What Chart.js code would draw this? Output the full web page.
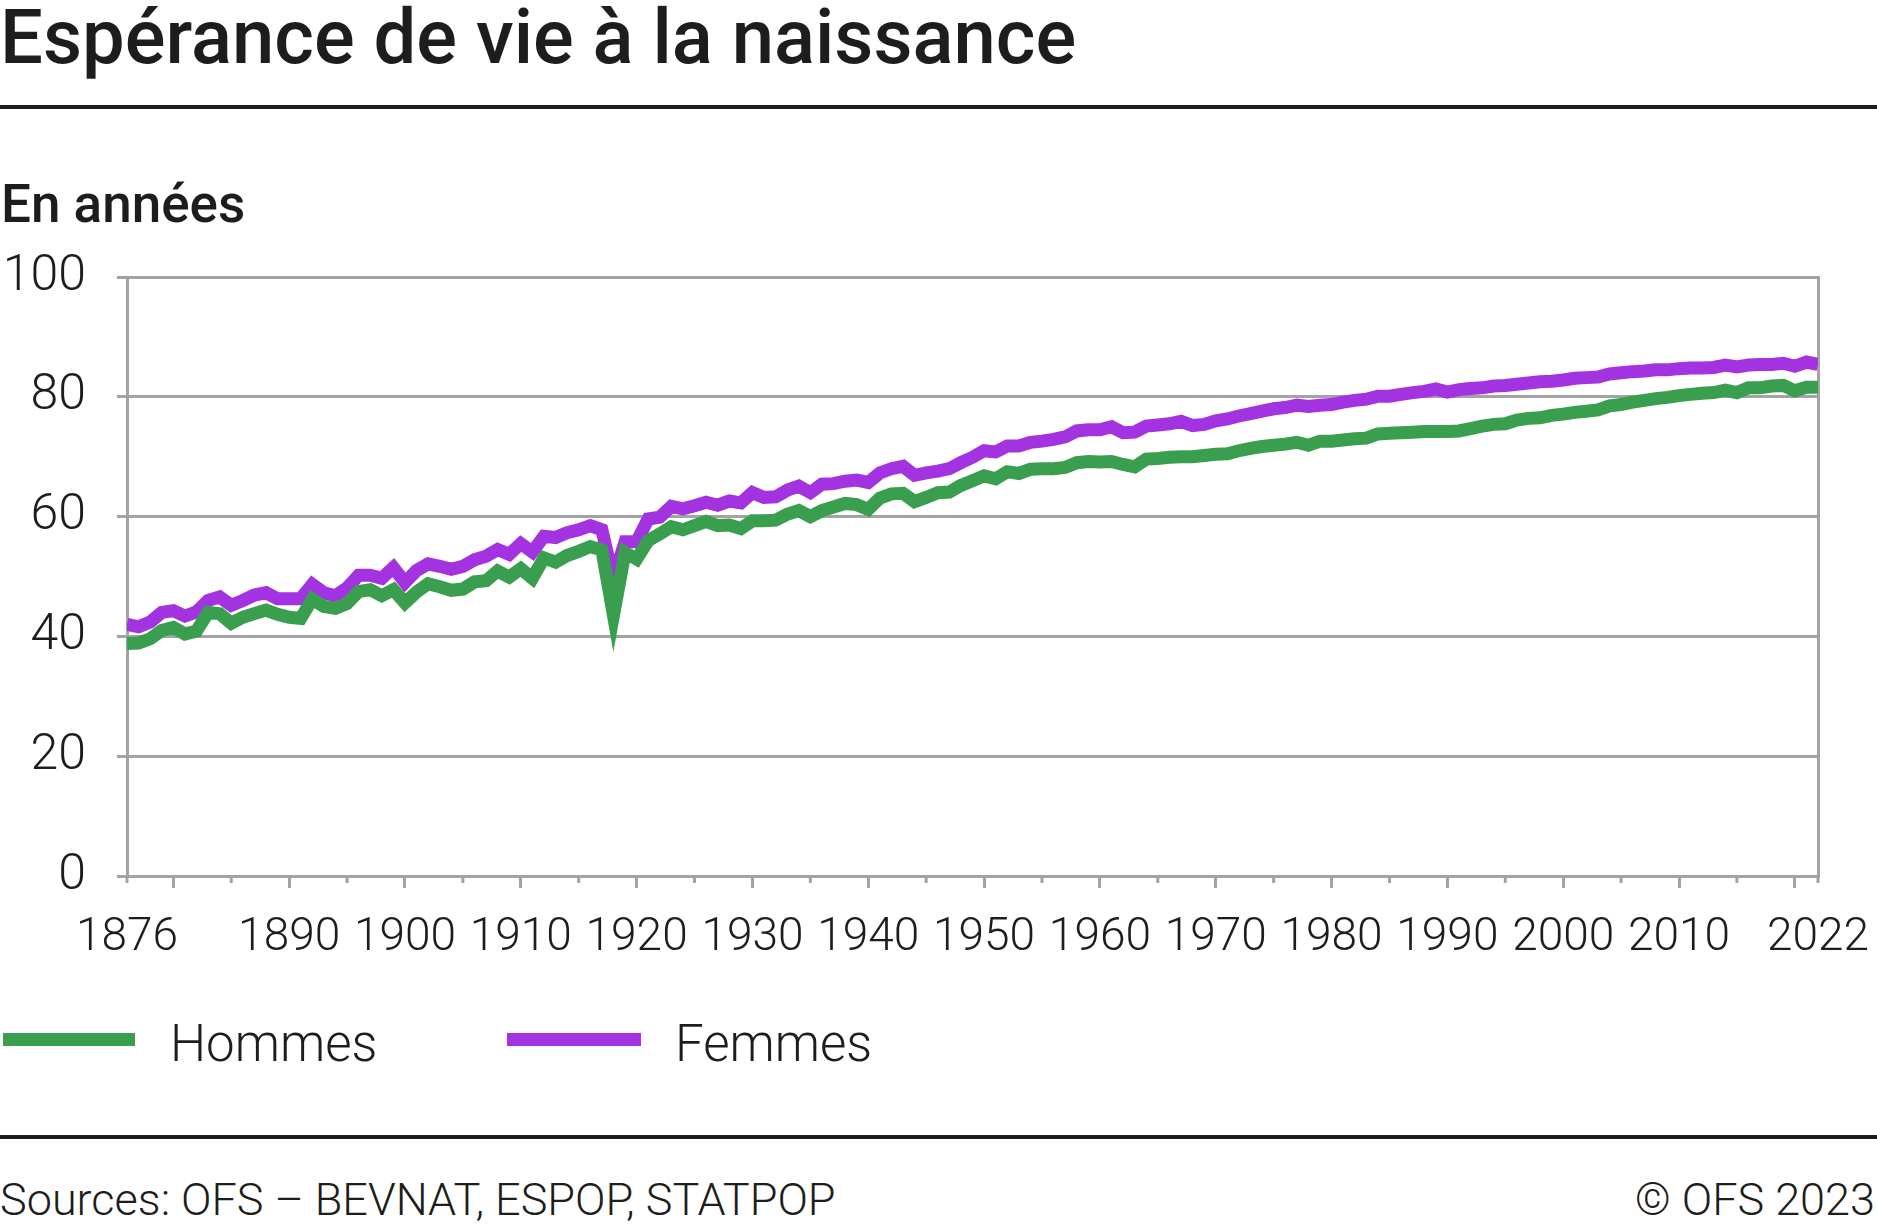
<!DOCTYPE html>
<html lang="fr">
<head>
<meta charset="utf-8">
<script src="https://cdn.jsdelivr.net/npm/chart.js@4.4.1/dist/chart.umd.min.js"></script>
<style>
  html, body { margin:0; padding:0; background:#fff; }
  body { width:1877px; height:1227px; position:relative; overflow:hidden; font-family:Roboto, "Noto Sans", sans-serif; color:#1d1d1b; }
  .abs { position:absolute; line-height:1; white-space:nowrap; }
  #title { left:0; top:-1px; font-size:76px; font-weight:500; }
  .rule { position:absolute; left:0; width:1877px; height:4px; background:#1d1d1b; }
  #unit { left:1px; top:178px; font-size:53px; font-weight:500; }
  #wrap { position:absolute; left:0; top:240px; width:1877px; height:740px; }
  .lg-line { position:absolute; height:13px; top:1033px; }
  .lg-text { font-size:51px; font-weight:300; top:1018px; }
  #src { left:0; top:1177px; font-size:45px; font-weight:300; }
  #copy { right:2px; top:1177px; font-size:45px; font-weight:300; }
</style>
</head>
<body>
<div id="title" class="abs">Espérance de vie à la naissance</div>
<div class="rule" style="top:105px"></div>
<div id="unit" class="abs">En années</div>
<div id="wrap"><canvas id="c"></canvas></div>
<div class="lg-line" style="left:3px;width:132px;background:#3a9e4f"></div>
<div class="abs lg-text" style="left:170px">Hommes</div>
<div class="lg-line" style="left:507px;width:134px;background:#a333e0"></div>
<div class="abs lg-text" style="left:675px">Femmes</div>
<div class="rule" style="top:1135px"></div>
<div id="src" class="abs">Sources: OFS – BEVNAT, ESPOP, STATPOP</div>
<div id="copy" class="abs">© OFS 2023</div>
<script>
const years = [1876,1877,1878,1879,1880,1881,1882,1883,1884,1885,1886,1887,1888,1889,1890,1891,1892,1893,1894,1895,1896,1897,1898,1899,1900,1901,1902,1903,1904,1905,1906,1907,1908,1909,1910,1911,1912,1913,1914,1915,1916,1917,1918,1919,1920,1921,1922,1923,1924,1925,1926,1927,1928,1929,1930,1931,1932,1933,1934,1935,1936,1937,1938,1939,1940,1941,1942,1943,1944,1945,1946,1947,1948,1949,1950,1951,1952,1953,1954,1955,1956,1957,1958,1959,1960,1961,1962,1963,1964,1965,1966,1967,1968,1969,1970,1971,1972,1973,1974,1975,1976,1977,1978,1979,1980,1981,1982,1983,1984,1985,1986,1987,1988,1989,1990,1991,1992,1993,1994,1995,1996,1997,1998,1999,2000,2001,2002,2003,2004,2005,2006,2007,2008,2009,2010,2011,2012,2013,2014,2015,2016,2017,2018,2019,2020,2021,2022];

const hommes = [38.8,38.9,39.6,41.0,41.5,40.4,40.9,44.0,43.8,42.2,43.2,43.8,44.4,43.7,43.2,43.0,46.2,45.0,44.7,45.5,47.5,47.8,46.8,47.8,45.6,47.4,48.8,48.3,47.7,47.9,49.1,49.3,50.9,49.9,51.3,49.7,53.1,52.4,53.5,54.2,55.0,54.4,43.5,54.0,52.9,56.0,57.1,58.3,57.8,58.5,59.2,58.5,58.6,58.0,59.3,59.3,59.4,60.4,61.0,60.0,61.0,61.6,62.2,62.0,61.2,63.1,63.8,63.9,62.5,63.2,64.0,64.1,65.2,66.0,66.8,66.3,67.5,67.2,67.9,68.0,68.0,68.2,69.0,69.2,69.1,69.2,68.7,68.3,69.6,69.7,69.9,70.0,70.0,70.2,70.4,70.5,71.0,71.4,71.7,71.9,72.1,72.4,71.9,72.6,72.6,72.8,73.0,73.1,73.8,73.9,74.0,74.1,74.2,74.2,74.2,74.3,74.7,75.1,75.4,75.5,76.1,76.4,76.5,76.9,77.1,77.4,77.6,77.8,78.5,78.7,79.1,79.4,79.7,79.9,80.2,80.4,80.6,80.7,81.1,80.7,81.5,81.5,81.8,81.9,81.0,81.6,81.6];

const femmes = [42.0,41.6,42.4,44.0,44.3,43.4,44.1,46.0,46.6,45.2,46.0,46.9,47.3,46.3,46.3,46.3,48.7,47.3,46.8,48.1,50.2,50.2,49.7,51.5,49.0,51.0,52.1,51.7,51.2,51.7,52.8,53.4,54.5,53.7,55.5,54.1,56.7,56.5,57.3,57.8,58.5,57.8,49.5,55.8,55.8,59.6,59.9,61.7,61.3,61.8,62.4,61.9,62.6,62.3,64.0,63.2,63.3,64.4,65.1,64.0,65.4,65.5,65.9,66.1,65.7,67.3,68.0,68.4,66.9,67.3,67.6,68.0,69.0,69.9,71.0,70.8,71.8,71.8,72.4,72.6,72.9,73.3,74.3,74.5,74.5,75.0,74.0,74.1,75.1,75.3,75.5,75.9,75.2,75.4,76.0,76.3,76.8,77.2,77.6,78.0,78.2,78.6,78.4,78.6,78.7,79.1,79.4,79.6,80.1,80.1,80.4,80.7,80.9,81.3,80.8,81.2,81.4,81.5,81.8,81.9,82.1,82.3,82.5,82.6,82.8,83.1,83.2,83.3,83.8,84.0,84.2,84.3,84.5,84.5,84.7,84.8,84.8,84.9,85.3,85.0,85.3,85.4,85.4,85.6,85.1,85.8,85.4];

const seriesNames = ['Hommes', 'Femmes'];
const xTickValues = [1876,1880,1890,1900,1910,1920,1930,1940,1950,1960,1970,1980,1990,2000,2010,2020,2022];
const xLabelYears = [1876,1890,1900,1910,1920,1930,1940,1950,1960,1970,1980,1990,2000,2010,2022];
const xMajorTicks = [1880,1890,1900,1910,1920,1930,1940,1950,1960,1970,1980,1990,2000,2010,2020];
const xMinorTicks = [1876,1885,1895,1905,1915,1925,1935,1945,1955,1965,1975,1985,1995,2005,2015,2022];
const yTickValues = [0,20,40,60,80,100];

const GREEN = '#3a9e4f';
const PURPLE = '#a333e0';
const GRID = '#a3a3a3';
const TEXT = '#1d1d1b';

const toPoints = arr => years.map((y, i) => ({ x: y, y: arr[i] }));

const minorTickPlugin = {
  id: 'minorTicks',
  afterDraw(chart) {
    const xs = chart.scales.x;
    const ctx = chart.ctx;
    const b = chart.chartArea.bottom;
    ctx.save();
    ctx.strokeStyle = GRID;
    ctx.lineWidth = 3;
    xMinorTicks.forEach(v => {
      const px = xs.getPixelForValue(v);
      ctx.beginPath();
      ctx.moveTo(px, b);
      ctx.lineTo(px, b + 7);
      ctx.stroke();
    });
    ctx.restore();
  }
};

Chart.defaults.font.family = 'Roboto';
Chart.defaults.color = TEXT;

new Chart(document.getElementById('c'), {
  type: 'line',
  data: {
    datasets: [
      { label: seriesNames[0], data: toPoints(hommes), borderColor: GREEN, backgroundColor: GREEN,
        borderWidth: 13, pointRadius: 0, tension: 0, borderJoinStyle: 'miter', borderCapStyle: 'butt', fill: false },
      { label: seriesNames[1], data: toPoints(femmes), borderColor: PURPLE, backgroundColor: PURPLE,
        borderWidth: 13, pointRadius: 0, tension: 0, borderJoinStyle: 'miter', borderCapStyle: 'butt', fill: false }
    ]
  },
  options: {
    responsive: true,
    maintainAspectRatio: false,
    animation: false,
    events: [],
    layout: { padding: { top: 37, right: 59, left: 0, bottom: 0 } },
    plugins: { legend: { display: false }, tooltip: { enabled: false }, title: { display: false } },
    scales: {
      x: {
        type: 'linear',
        min: 1876, max: 2022,
        afterBuildTicks: s => { s.ticks = xTickValues.map(v => ({ value: v })); },
        afterFit: s => { s.height = 104; s.paddingLeft = 0; s.paddingRight = 0; },
        ticks: {
          autoSkip: false, maxRotation: 0, minRotation: 0, padding: 23,
          font: { size: 46, weight: 300 }, color: TEXT,
          callback: v => xLabelYears.includes(v) ? String(v) : ''
        },
        grid: {
          drawOnChartArea: false, drawTicks: true, tickLength: 12,
          tickColor: c => (c.tick && xMajorTicks.includes(c.tick.value)) ? GRID : 'rgba(0,0,0,0)',
          tickWidth: c => (c.tick && xMajorTicks.includes(c.tick.value)) ? 3 : 0,
          color: GRID, lineWidth: 3
        },
        border: { display: true, color: GRID, width: 3 }
      },
      y: {
        min: 0, max: 100,
        afterBuildTicks: s => { s.ticks = yTickValues.map(v => ({ value: v })); },
        afterFit: s => { s.width = 127; s.paddingTop = 0; s.paddingBottom = 0; },
        ticks: { padding: 31, font: { size: 50, weight: 300 }, color: TEXT },
        grid: { color: GRID, lineWidth: 3, tickLength: 10, drawTicks: true, tickColor: GRID, tickWidth: 3 },
        border: { display: true, color: GRID, width: 3 }
      },
      yr: {
        position: 'right',
        min: 0, max: 100,
        afterFit: s => { s.width = 0; s.paddingTop = 0; s.paddingBottom = 0; },
        ticks: { display: false },
        grid: { drawOnChartArea: false, drawTicks: false },
        border: { display: true, color: GRID, width: 3 }
      }
    }
  },
  plugins: [minorTickPlugin]
});
</script>
</body>
</html>
